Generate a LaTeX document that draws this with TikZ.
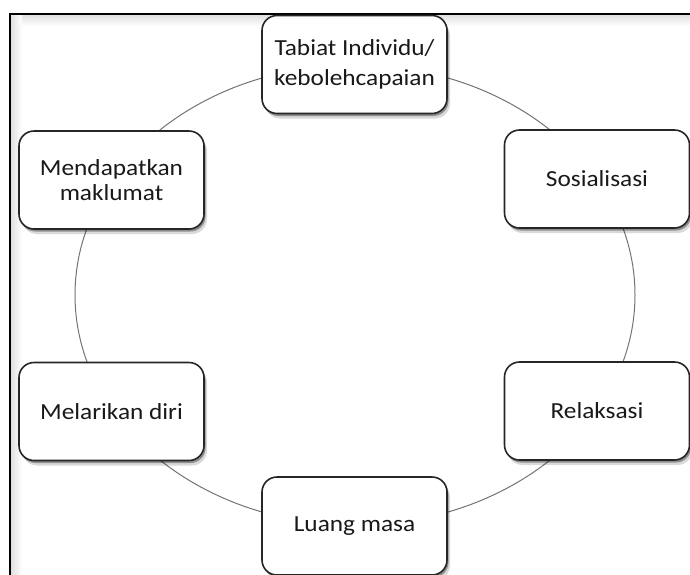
\documentclass[tikz,border=0pt]{standalone}
\usepackage{fontspec}
\setmainfont[FakeStretch=1.1]{Carlito}
\usetikzlibrary{shadows}

\tikzset{
	kotak/.style={draw=black!85, line width=1.6pt, fill=white, rounded corners=15pt,
		minimum width=185pt, minimum height=98pt, inner sep=0pt, align=center,
		text=black!90, font=\fontsize{23}{25}\selectfont,
		general shadow={fill=black, opacity=0.15, shadow xshift=3pt, shadow yshift=-5pt},
		general shadow={fill=black, opacity=0.35, shadow xshift=1.5pt, shadow yshift=-2.5pt}},
}

\begin{document}
\begin{tikzpicture}[x=1pt, y=-1pt]
		%%%%% START %%%%%
		\useasboundingbox (0,0) rectangle (690,574);
		
		\shade[top color=black!13, bottom color=white] (10,14) rectangle (690,26);
		\shade[left color=black!13, right color=white] (10,14) rectangle (22,574);
		\draw[line width=2.4pt] (10,580) -- (10,14) -- (700,14);
		
		\coordinate (pusat) at (355,295);
		\draw[black!55, line width=1pt] (pusat) ellipse [x radius=280, y radius=230];
		
		\node[kotak, font=\fontsize{23}{30}\selectfont] (tabiat) at (354.5,64.5) {Tabiat Individu/\\kebolehcapaian};
		\node[kotak] (sosial) at (597,179) {Sosialisasi};
		\node[kotak] (relaks) at (597,411) {Relaksasi};
		\node[kotak] (luang) at (354.5,526) {Luang masa};
		\node[kotak] (lari) at (111.5,411.5) {Melarikan diri};
		\node[kotak] (maklumat) at (111.5,180) {Mendapatkan\\maklumat};
		
		%%%%% END %%%%%
	\end{tikzpicture}
\end{document}
